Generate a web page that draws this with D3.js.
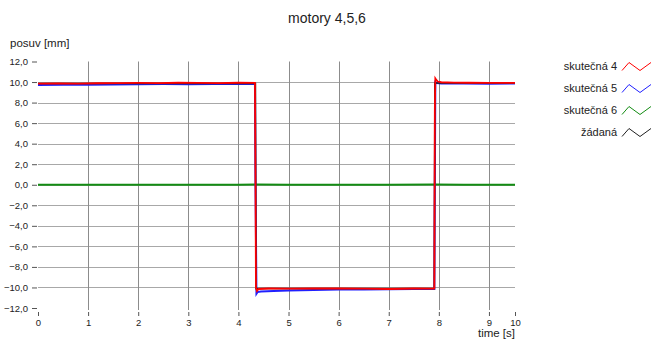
<!DOCTYPE html>
<html>
<head>
<meta charset="utf-8">
<script src="https://cdn.jsdelivr.net/npm/d3@7"></script>
<style>
  body { margin: 0; background: #fff; }
  svg text { font-family: "Liberation Sans", Arial, sans-serif; fill: #222; }
</style>
</head>
<body>
<svg id="chart" width="651" height="340"></svg>
<script>
// series data (time [s], posuv [mm])
var t4 = [0, 0.4, 0.8, 1.2, 1.6, 2.0, 2.4, 2.8, 3.2, 3.6, 4.0, 4.33, 4.34, 4.35, 4.37, 4.4, 4.6, 5.0, 5.5, 6.0, 6.5, 7.0, 7.5, 7.91, 7.92, 7.93, 7.95, 7.98, 8.05, 8.3, 8.6, 9.0, 9.52];
var v4 = [9.85, 9.86, 9.85, 9.88, 9.9, 9.92, 9.9, 9.93, 9.92, 9.9, 9.93, 9.92, 0.9, -10.05, -10.35, -10.15, -10.1, -10.12, -10.1, -10.08, -10.12, -10.15, -10.1, -10.12, 7.3, 10.35, 10.2, 10.05, 9.98, 9.95, 9.93, 9.92, 9.92];
var t5 = [0, 0.5, 1.0, 1.5, 2.0, 2.5, 3.0, 3.5, 4.0, 4.33, 4.34, 4.36, 4.38, 4.45, 4.7, 5.0, 5.5, 6.0, 6.5, 7.0, 7.5, 7.91, 7.93, 7.96, 8.05, 8.5, 9.0, 9.52];
var v5 = [9.72, 9.74, 9.73, 9.76, 9.78, 9.8, 9.79, 9.8, 9.8, 9.8, 0.85, -10.6, -10.45, -10.4, -10.35, -10.3, -10.25, -10.2, -10.2, -10.18, -10.15, -10.15, 10.0, 9.9, 9.85, 9.85, 9.84, 9.85];
var t6 = [0, 1.0, 2.0, 3.0, 4.0, 4.35, 5.0, 6.0, 7.0, 7.92, 8.5, 9.0, 9.52];
var v6 = [0, 0.01, -0.01, 0.01, 0, 0.02, -0.01, 0.01, 0, 0.02, 0.01, 0, 0];
var tRef = [0, 4.34, 4.35, 7.91, 7.92, 9.52];
var vRef = [9.85, 9.85, -10.1, -10.1, 9.9, 9.9];

var seriesNames = ["skutečná 4", "skutečná 5", "skutečná 6", "žádaná"];
var seriesColors = ["#ff0000", "#2020ff", "#138c13", "#202020"];

var xTicks = [0, 1, 2, 3, 4, 5, 6, 7, 8, 9, 9.52];
var xTickLabels = ["0", "1", "2", "3", "4", "5", "6", "7", "8", "9", "10"];
var yTicks = [-12, -10, -8, -6, -4, -2, 0, 2, 4, 6, 8, 10, 12];
var yGrid = [-10, -8, -6, -4, -2, 0, 2, 4, 6, 8, 10];
var xGrid = [1, 2, 3, 4, 5, 6, 7, 8, 9];

var plotLeft = 38, plotRight = 515, plotTop = 61.5, plotBottom = 308;

var x = d3.scaleLinear().domain([0, 9.52]).range([plotLeft, plotRight]);
var y = d3.scaleLinear().domain([-12, 12]).range([plotBottom, plotTop]);

var svg = d3.select("#chart");

svg.append("text")
    .attr("x", 327).attr("y", 23)
    .attr("text-anchor", "middle")
    .style("font-size", "14px")
    .text("motory 4,5,6");

svg.append("text")
    .attr("x", 10).attr("y", 47)
    .style("font-size", "11.5px")
    .text("posuv [mm]");

svg.append("text")
    .attr("x", 515).attr("y", 337)
    .attr("text-anchor", "end")
    .style("font-size", "11.5px")
    .text("time [s]");

// grid
svg.append("g").selectAll("line")
    .data(yGrid)
  .enter().append("line")
    .attr("x1", plotLeft).attr("x2", plotRight)
    .attr("y1", function(d) { return Math.round(y(d)) + 0.5; })
    .attr("y2", function(d) { return Math.round(y(d)) + 0.5; })
    .style("stroke", "#a8a8a8");

svg.append("g").selectAll("line")
    .data(xGrid)
  .enter().append("line")
    .attr("y1", plotTop).attr("y2", 310)
    .attr("x1", function(d) { return Math.round(x(d)) + 0.5; })
    .attr("x2", function(d) { return Math.round(x(d)) + 0.5; })
    .style("stroke", "#8c8c8c");

// axes
var yAxis = d3.axisLeft(y)
    .tickValues(yTicks)
    .tickSize(5)
    .tickPadding(4)
    .tickFormat(function(d) { return d3.format(".1f")(d).replace(".", ","); });

var gy = svg.append("g")
    .attr("transform", "translate(37,0)")
    .call(yAxis);
gy.select(".domain").remove();
gy.selectAll("line").style("stroke", "#555");
gy.selectAll("text").style("font-size", "9.5px").style("font-family", "Liberation Sans, Arial, sans-serif").style("fill", "#222");

var xAxis = d3.axisBottom(x)
    .tickValues(xTicks)
    .tickSize(4)
    .tickPadding(3)
    .tickFormat(function(d, i) { return xTickLabels[i]; });

var gx = svg.append("g")
    .attr("transform", "translate(0,312)")
    .call(xAxis);
gx.select(".domain").remove();
gx.selectAll("line").style("stroke", "#555");
gx.selectAll("text").style("font-size", "9.5px").style("font-family", "Liberation Sans, Arial, sans-serif").style("fill", "#222");

// lines
var line = d3.line()
    .x(function(d) { return x(d[0]); })
    .y(function(d) { return y(d[1]); });

function pairs(ts, vs) { return ts.map(function(t, i) { return [t, vs[i]]; }); }

var drawOrder = [
  {data: pairs(t6, v6), color: seriesColors[2], w: 2},
  {data: pairs(t5, v5), color: seriesColors[1], w: 2},
  {data: pairs(tRef, vRef), color: seriesColors[3], w: 1.5},
  {data: pairs(t4, v4), color: seriesColors[0], w: 1.8}
];

svg.append("g").selectAll("path")
    .data(drawOrder)
  .enter().append("path")
    .attr("d", function(d) { return line(d.data); })
    .style("fill", "none")
    .style("stroke", function(d) { return d.color; })
    .style("stroke-width", function(d) { return d.w; });

// legend
var legend = svg.append("g").selectAll("g")
    .data(seriesNames)
  .enter().append("g")
    .attr("transform", function(d, i) { return "translate(0," + (66.5 + i * 22) + ")"; });

legend.append("text")
    .attr("x", 617)
    .attr("dy", "0.35em")
    .attr("text-anchor", "end")
    .style("font-size", "11px")
    .text(function(d) { return d; });

legend.append("path")
    .attr("d", "M622,4L629,-4L640,4L651,-4")
    .style("fill", "none")
    .style("stroke", function(d, i) { return seriesColors[i]; })
    .style("stroke-width", 1);
</script>
</body>
</html>
